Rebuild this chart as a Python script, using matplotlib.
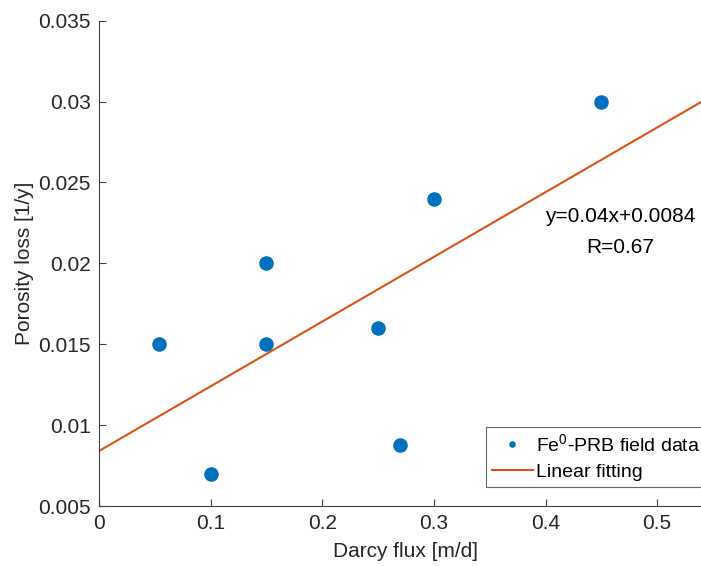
import matplotlib
matplotlib.use("Agg")
import matplotlib.pyplot as plt
from matplotlib.ticker import FuncFormatter

# Field data: Darcy flux [m/d] vs porosity loss [1/y]
darcy_flux = [0.054, 0.10, 0.15, 0.15, 0.25, 0.27, 0.30, 0.45]
porosity_loss = [0.015, 0.007, 0.020, 0.015, 0.016, 0.0088, 0.024, 0.030]

# Linear fit as reported
slope = 0.04
intercept = 0.0084
r_value = 0.67
fit_x = [0.0, 0.55]

x_ticks = [0, 0.1, 0.2, 0.3, 0.4, 0.5]
y_ticks = [0.005, 0.01, 0.015, 0.02, 0.025, 0.03, 0.035]

BLUE = "#0072BD"
ORANGE = "#D95319"
AXIS_GRAY = "#404040"
TEXT = "#262626"

plt.rcParams.update({
    "font.family": ["Liberation Sans", "DejaVu Sans"],
    "font.size": 15,
    "mathtext.default": "regular",
})

fig = plt.figure(figsize=(7.01, 5.66), dpi=100)
ax = fig.add_axes([99 / 701, 60 / 566, 614 / 701, 485.3 / 566])

ax.plot(darcy_flux, porosity_loss, "o", color=BLUE, markersize=10.5,
        markeredgewidth=0, label="Fe$^{0}$-PRB field data", zorder=3)
fit_y = [slope * x + intercept for x in fit_x]
ax.plot(fit_x, fit_y, "-", color=ORANGE, linewidth=1.5, label="Linear fitting")

ax.text(0.4668, 0.0229, f"y={slope:g}x+{intercept:g}", ha="center", va="center",
        color="black", fontsize=15)
ax.text(0.4668, 0.02096, f"R={r_value:g}", ha="center", va="center",
        color="black", fontsize=15)

ax.set_xlim(0, 0.55)
ax.set_ylim(0.005, 0.035)
ax.set_xticks(x_ticks)
ax.set_yticks(y_ticks)
ax.xaxis.set_major_formatter(FuncFormatter(lambda v, p: f"{v:g}"))
ax.yaxis.set_major_formatter(FuncFormatter(lambda v, p: f"{v:g}"))

for side in ["top", "right"]:
    ax.spines[side].set_visible(False)
for side in ["left", "bottom"]:
    ax.spines[side].set_color(AXIS_GRAY)
    ax.spines[side].set_linewidth(0.8)

ax.tick_params(direction="in", length=5, width=0.8, color=AXIS_GRAY,
               labelcolor=TEXT, labelsize=15, pad=6)

ax.set_xlabel("Darcy flux [m/d]", color=TEXT, fontsize=15, labelpad=6)
ax.set_ylabel("Porosity loss [1/y]", color=TEXT, fontsize=15, labelpad=3)

leg = ax.legend(loc="upper left", bbox_to_anchor=(0.6303, 0.1628),
                fontsize=14, frameon=True, fancybox=False, markerscale=0.45,
                handlelength=2.1, handletextpad=0.15, borderpad=0.3,
                labelspacing=0.45, borderaxespad=0)
leg.get_frame().set_edgecolor(AXIS_GRAY)
leg.get_frame().set_linewidth(0.8)
for t in leg.get_texts():
    t.set_color("black")

fig.savefig("out.png", dpi=100)
